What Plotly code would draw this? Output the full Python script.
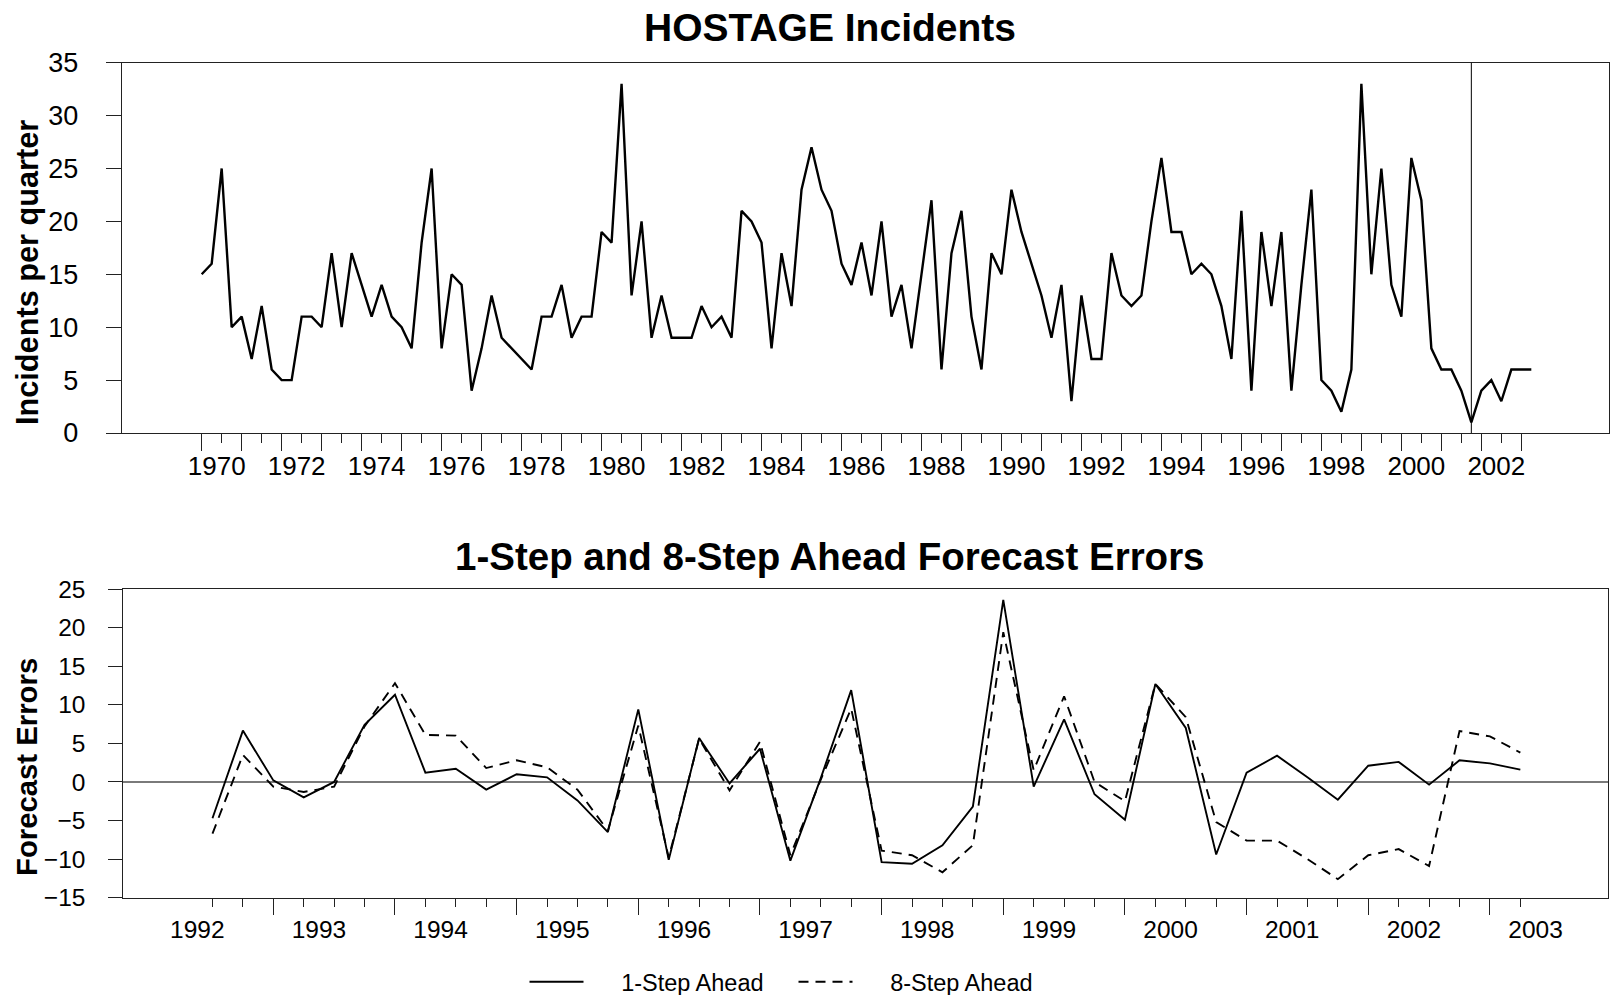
import plotly.graph_objects as go

# ---------------- data ----------------
# Quarterly hostage incidents, 1970Q1 .. 2003Q2
hostage = [15, 16, 25, 10, 11, 7, 12, 6, 5, 5, 11, 11, 10, 17, 10, 17,
           14, 11, 14, 11, 10, 8, 18, 25, 8, 15, 14, 4, 8, 13, 9, 8,
           7, 6, 11, 11, 14, 9, 11, 11, 19, 18, 33, 13, 20, 9, 13, 9,
           9, 9, 12, 10, 11, 9, 21, 20, 18, 8, 17, 12, 23, 27, 23, 21,
           16, 14, 18, 13, 20, 11, 14, 8, 15, 22, 6, 17, 21, 11, 6, 17,
           15, 23, 19, 16, 13, 9, 14, 3, 13, 7, 7, 17, 13, 12, 13, 20,
           26, 19, 19, 15, 16, 15, 12, 7, 21, 4, 19, 12, 19, 4, 14, 23,
           5, 4, 2, 6, 33, 15, 25, 14, 11, 26, 22, 8, 6, 6, 4, 1,
           4, 5, 3, 6, 6, 6]
hostage_start_year = 1970
hostage_start_quarter = 1

# Forecast errors, 1992Q3 .. 2003Q2
one_step = [-4.7, 6.65, 0.2, -2.0, 0.0, 7.4, 11.3, 1.2, 1.7, -1.0, 1.0, 0.6,
            -2.4, -6.5, 9.4, -10.1, 5.7, -0.2, 4.3, -10.2, 0.5, 11.9, -10.4, -10.6,
            -8.2, -3.2, 23.6, -0.6, 8.1, -1.6, -4.9, 12.7, 7.0, -9.4, 1.2, 3.4,
            0.6, -2.3, 2.1, 2.6, -0.35, 2.8, 2.4, 1.6]
eight_step = [-6.7, 3.5, -0.6, -1.3, -0.6, 7.2, 12.8, 6.1, 6.0, 1.8, 2.8, 1.9,
              -1.0, -6.3, 7.3, -9.8, 5.6, -1.1, 5.2, -9.5, 0.3, 9.5, -8.9, -9.5,
              -11.7, -8.2, 19.4, 1.5, 11.1, 0.0, -2.5, 12.7, 8.4, -5.2, -7.6, -7.6,
              -10.0, -12.6, -9.5, -8.7, -10.9, 6.6, 5.9, 3.8]
errors_start_year = 1992
errors_start_quarter = 3

series_names = ["1-Step Ahead", "8-Step Ahead"]
break_year, break_quarter = 2001, 4          # vertical marker in top panel
top_label_years = list(range(1970, 2003, 2))
bottom_label_years = list(range(1992, 2004))
top_tick_years = list(range(1970, 2004))

# ---------------- helpers ----------------
def qpos(year, quarter):
    return year + (quarter - 1) / 4.0

x_top = [qpos(hostage_start_year, hostage_start_quarter) + i / 4.0 for i in range(len(hostage))]
x_err = [qpos(errors_start_year, errors_start_quarter) + i / 4.0 for i in range(len(one_step))]

W, H = 1612, 995
FONT = "Liberation Sans, Arial, sans-serif"
AX = "#222222"
NB = "\u00a0"

def fx(p):
    return p / W

def fy(p):
    return 1 - p / H

top_dx = [fx(121.7), fx(1609.3)]
top_dy = [fy(433.0), fy(62.7)]
bot_dx = [fx(123.3), fx(1608.3)]
bot_dy = [fy(897.7), fy(589.0)]
top_range = [1968.0, 2005.2]
bot_range = [1991.767, 2003.973]

fig = go.Figure()
fig.add_trace(go.Scatter(x=x_top, y=hostage, mode="lines", showlegend=False,
                         line=dict(color="black", width=2.4), xaxis="x", yaxis="y"))
fig.add_trace(go.Scatter(x=x_err, y=one_step, mode="lines", name=NB * 5 + series_names[0],
                         line=dict(color="black", width=1.9), xaxis="x2", yaxis="y2"))
fig.add_trace(go.Scatter(x=x_err, y=eight_step, mode="lines", name=NB * 5 + series_names[1],
                         line=dict(color="black", width=1.9, dash="10px,7px"), xaxis="x2", yaxis="y2"))
# carriers so the overlaid label axes get drawn (no visible marks)
fig.add_trace(go.Scatter(x=[None], y=[None], xaxis="x3", yaxis="y", showlegend=False, hoverinfo="skip"))
fig.add_trace(go.Scatter(x=[None], y=[None], xaxis="x4", yaxis="y2", showlegend=False, hoverinfo="skip"))

top_major = [float(y) for y in top_tick_years]
top_minor = [y + 0.5 for y in top_tick_years[:-1]]
bot_major = [x for x in x_err if float(x).is_integer()]
bot_minor = [x for x in x_err if not float(x).is_integer()]

common_axis = dict(showgrid=False, zeroline=False, showline=True, mirror=True,
                   linecolor=AX, linewidth=1, tickcolor=AX, tickwidth=1)

fig.update_layout(
    width=W, height=H, autosize=False,
    margin=dict(l=0, r=0, t=0, b=0, autoexpand=False),
    paper_bgcolor="white", plot_bgcolor="white",
    font=dict(family=FONT, color="black"),
    xaxis=dict(domain=top_dx, range=top_range, anchor="y", ticks="outside",
               tickvals=top_major, ticklen=17, showticklabels=False,
               minor=dict(tickvals=top_minor, ticks="outside", ticklen=9,
                          tickcolor=AX, tickwidth=1, showgrid=False),
               **common_axis),
    xaxis3=dict(overlaying="x", anchor="y", range=top_range, side="bottom",
                tickvals=[y + 0.375 for y in top_label_years],
                ticktext=[str(y) for y in top_label_years],
                ticks="", showline=False, showgrid=False, zeroline=False,
                tickfont=dict(size=26, family=FONT), ticklabelstandoff=15),
    yaxis=dict(domain=top_dy, range=[0, 35], anchor="x", dtick=5, tick0=0,
               ticks="outside", ticklen=15, tickfont=dict(size=27, family=FONT),
               ticklabelstandoff=22, **common_axis),
    xaxis2=dict(domain=bot_dx, range=bot_range, anchor="y2", ticks="outside",
                tickvals=bot_major, ticklen=16, showticklabels=False,
                minor=dict(tickvals=bot_minor, ticks="outside", ticklen=8,
                           tickcolor=AX, tickwidth=1, showgrid=False),
                **common_axis),
    xaxis4=dict(overlaying="x2", anchor="y2", range=bot_range, side="bottom",
                tickvals=[y + 0.375 for y in bottom_label_years],
                ticktext=[str(y) for y in bottom_label_years],
                ticks="", showline=False, showgrid=False, zeroline=False,
                tickfont=dict(size=24.5, family=FONT), ticklabelstandoff=15),
    yaxis2=dict(domain=bot_dy, range=[-15, 25], anchor="x2", dtick=5, tick0=0,
                ticks="outside", ticklen=14, tickfont=dict(size=24.5, family=FONT),
                ticklabelstandoff=18,
                showgrid=False, showline=True, mirror=True, linecolor=AX, linewidth=1,
                tickcolor=AX, tickwidth=1,
                zeroline=True, zerolinecolor="#7a7a7a", zerolinewidth=1.6),
    legend=dict(orientation="h", x=fx(524.5), y=fy(982), xanchor="left", yanchor="middle",
                font=dict(size=23.5, family=FONT), itemwidth=54,
                entrywidth=200, entrywidthmode="pixels",
                bgcolor="rgba(0,0,0,0)"),
    showlegend=True,
)

fig.add_shape(type="line", xref="x", yref="y domain",
              x0=qpos(break_year, break_quarter), x1=qpos(break_year, break_quarter),
              y0=0, y1=1, line=dict(color="black", width=1))

title_font = dict(family=FONT, size=39, color="black", weight="bold")
fig.add_annotation(text="HOSTAGE Incidents", xref="paper", yref="paper",
                   x=fx(830), y=fy(27.5), xanchor="center", yanchor="middle",
                   showarrow=False, font=title_font)
fig.add_annotation(text="1-Step and 8-Step Ahead Forecast Errors", xref="paper", yref="paper",
                   x=fx(830), y=fy(556.5), xanchor="center", yanchor="middle",
                   showarrow=False, font=dict(family=FONT, size=38.5, color="black", weight="bold"))
fig.add_annotation(text="Incidents per quarter", xref="paper", yref="paper",
                   x=fx(28), y=fy(273), xanchor="center", yanchor="middle", textangle=-90,
                   showarrow=False, font=dict(family=FONT, size=30.7, color="black", weight="bold"))
fig.add_annotation(text="Forecast Errors", xref="paper", yref="paper",
                   x=fx(26), y=fy(767), xanchor="center", yanchor="middle", textangle=-90,
                   showarrow=False, font=dict(family=FONT, size=29.3, color="black", weight="bold"))

reset_page = ("document.documentElement.style.margin='0';document.body.style.margin='0';"
              "document.body.style.padding='0';document.body.style.overflow='hidden';")
fig.write_html("out.html", post_script=reset_page, config={"displayModeBar": False})
